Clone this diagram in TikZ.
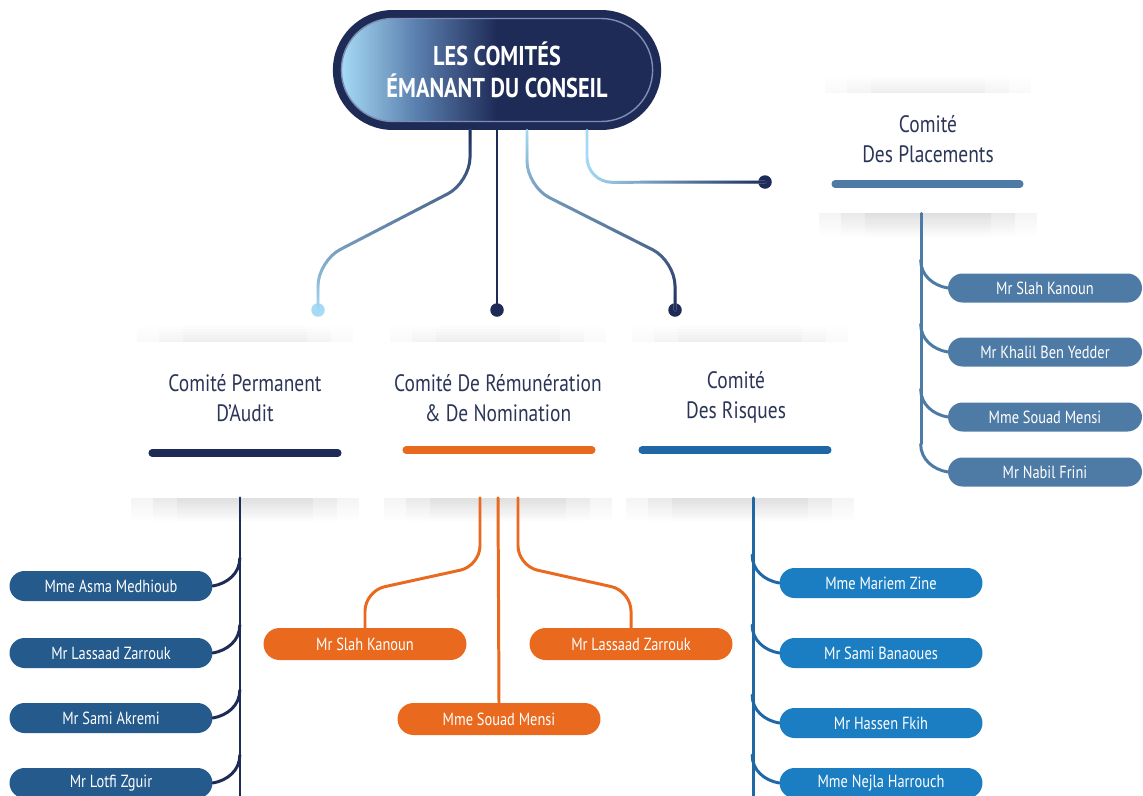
\documentclass[tikz,border=0pt]{standalone}
\usepackage{fontspec}
\setmainfont{PT Sans}[FakeStretch=0.82]
\usetikzlibrary{shapes.misc,fadings,calc,backgrounds}

\definecolor{navy}{HTML}{1F2B57}
\definecolor{lightb}{HTML}{A6DAF5}
\definecolor{hdrmid}{HTML}{5A7FAE}
\definecolor{rimc}{HTML}{7F8DB3}
\definecolor{titlec}{HTML}{2B3558}
\definecolor{orangec}{HTML}{E96A1E}
\definecolor{auditpill}{HTML}{245A8C}
\definecolor{riskpill}{HTML}{1C7EC2}
\definecolor{riskbar}{HTML}{1F68A5}
\definecolor{placepill}{HTML}{4E7BA6}

\pgfdeclarehorizontalshading{hdr}{100bp}{color(0bp)=(lightb); color(25bp)=(lightb); color(37bp)=(hdrmid); color(50bp)=(navy); color(100bp)=(navy)}

\begin{document}
\begin{tikzpicture}[x=0.02cm, y=-0.02cm, line cap=round,
    conn/.style={line width=1.7pt},
    dot/.style={circle, fill=navy, inner sep=0pt, minimum size=0.27cm},
    card/.style={fill=white, inner sep=0pt, minimum width=4.8cm, minimum height=3.1cm},
    title/.style={text=titlec, align=center, font=\fontsize{13.5}{17}\selectfont},
    bar/.style={line width=4pt, line cap=round},
    pill/.style={rounded rectangle, fill=#1, text=white, inner sep=0pt,
      minimum width=4.06cm, minimum height=0.6cm, font=\fontsize{10}{12}\selectfont}]

    \useasboundingbox (0,0) rectangle (1143,795);

    % header
    \node[rounded rectangle, fill=navy, minimum width=6.8cm, minimum height=2.4cm] (comites) at (497,70) {};
    \node[rounded rectangle, shade, shading=hdr, draw=rimc, line width=0.8pt,
      minimum width=6.46cm, minimum height=2.06cm, text=white, align=center,
      font=\bfseries\fontsize{15.5}{18}\selectfont] (comitesin) at (comites) {LES COMITÉS\\ÉMANANT DU CONSEIL};

    % committee cards
    \node[card] (audit) at (245,420) {};
    \node[card] (remun) at (498,420) {};
    \node[card] (risques) at (740,420) {};
    \node[card, minimum width=4.6cm, minimum height=2.4cm] (placements) at (928,153) {};
    \begin{scope}[on background layer]
      \foreach \c in {audit,remun,risques,placements}
        \foreach \i in {6,28,52} {
          \fill[black, opacity=0.045, path fading=south]
            ($(\c.south west)+(\i,0)$) rectangle ($(\c.south east)+(-\i,24)$);
          \fill[black, opacity=0.025, path fading=north]
            ($(\c.north west)+(\i+6,-18)$) rectangle ($(\c.north east)+(-\i-6,0)$);
        }
    \end{scope}

    \node[title] (tA) at (245,398) {Comité Permanent\\D’Audit};
    \node[title] (tR) at (498,398) {Comité De Rémunération\\\& De Nomination};
    \node[title] (tK) at (736,397) {Comité\\Des Risques};
    \node[title] (tP) at (928,139) {Comité\\Des Placements};

    \draw[bar, navy] (152,453) -- (338,453);
    \draw[bar, orangec] (406,450) -- (592,450);
    \draw[bar, riskbar] (642,450) -- (828,450);
    \draw[bar, placepill] (835,184) -- (1020,184);

    % header connectors
    \node[dot, fill=lightb] (dA) at (318,310) {};
    \node[dot] (dR) at (497,310) {};
    \node[dot] (dK) at (675,310) {};
    \node[dot] (dP) at (765,182) {};
    \draw[conn, lightb, rounded corners=0.5cm, postaction={draw=navy, path fading=south}]
      ($(comites.south)+(-27,0)$) -- ++(0,52) -- (318,261) -- (dA.center);
    \draw[conn, navy] (comites.south) -- (dR.center);
    \draw[conn, lightb, rounded corners=0.5cm, postaction={draw=navy, path fading=north}]
      ($(comites.south)+(30,0)$) -- ++(0,56) -- (675,261) -- (dK.center);
    \draw[conn, lightb, rounded corners=0.5cm, postaction={draw=navy, path fading=west}]
      ($(comites.south)+(90,0)$) -- ++(0,52) -- (dP.center);

    % audit members
    \node[pill=auditpill] (a1) at (111,586) {Mme Asma Medhioub\hspace{0.3cm}};
    \node[pill=auditpill] (a2) at (111,653) {Mr Lassaad Zarrouk\hspace{0.3cm}};
    \node[pill=auditpill] (a3) at (111,718) {Mr Sami Akremi\hspace{0.3cm}};
    \node[pill=auditpill] (a4) at (111,783) {Mr Lotfi Zguir\hspace{0.5cm}};
    \draw[conn, navy] ($(audit.south)+(-5,0)$) -- (240,800);
    \foreach \n in {a1,a2,a3,a4}
      \draw[conn, navy] ($(\n.east)+(27,-28)$) to[out=-90,in=10] (\n.east);

    % remuneration members
    \node[pill=orangec, minimum height=0.64cm] (m1) at (365,644) {Mr Slah Kanoun};
    \node[pill=orangec, minimum height=0.64cm] (m2) at (631,644) {Mr Lassaad Zarrouk};
    \node[pill=orangec, minimum height=0.64cm] (m3) at (499,719) {Mme Souad Mensi};
    \draw[conn, orangec, rounded corners=0.4cm] ($(remun.south)+(-18,0)$) -- ++(0,68) -- (365,591) -- (m1.north);
    \draw[conn, orangec, rounded corners=0.4cm] ($(remun.south)+(20,0)$) -- ++(0,68) -- (631,591) -- (m2.north);
    \draw[conn, orangec] (remun.south) -- (m3.north);

    % risk members
    \node[pill=riskpill] (r1) at (881,583) {Mme Mariem Zine};
    \node[pill=riskpill] (r2) at (881,653) {Mr Sami Banaoues};
    \node[pill=riskpill] (r3) at (881,723) {Mr Hassen Fkih};
    \node[pill=riskpill] (r4) at (881,783) {Mme Nejla Harrouch};
    \draw[conn, riskbar] ($(risques.south)+(13,0)$) -- (753,800);
    \foreach \n in {r1,r2,r3,r4}
      \draw[conn, riskbar] ($(\n.west)+(-27,-28)$) to[out=-90,in=170] (\n.west);

    % placement members
    \node[pill=placepill, minimum width=3.88cm, minimum height=0.58cm] (p1) at (1045,288) {Mr Slah Kanoun};
    \node[pill=placepill, minimum width=3.88cm, minimum height=0.58cm] (p2) at (1045,352) {Mr Khalil Ben Yedder};
    \node[pill=placepill, minimum width=3.88cm, minimum height=0.58cm] (p3) at (1045,417) {Mme Souad Mensi};
    \node[pill=placepill, minimum width=3.88cm, minimum height=0.58cm] (p4) at (1045,472) {Mr Nabil Frini};
    \draw[conn, placepill] ($(placements.south)+(-7,0)$) -- (921,444);
    \foreach \n in {p1,p2,p3,p4}
      \draw[conn, placepill] ($(\n.west)+(-27,-28)$) to[out=-90,in=170] (\n.west);
\end{tikzpicture}
\end{document}
